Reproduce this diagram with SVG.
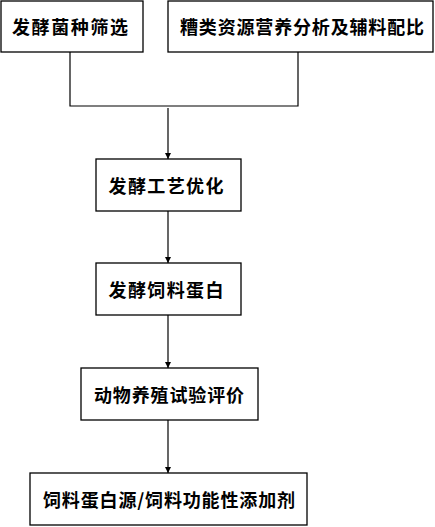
<svg xmlns="http://www.w3.org/2000/svg" width="435" height="527" viewBox="0 0 435 527">
<defs>
<style>
.box{fill:#fff;stroke:#000;stroke-width:1.3}
.t{font-family:"Noto Sans CJK SC","Noto Sans CJK JP",sans-serif;font-size:18px;font-weight:bold;fill:#000;text-anchor:middle;dominant-baseline:central}
.c{fill:none;stroke:#000;stroke-width:1.2}
</style>
<marker id="ah" viewBox="0 0 8 8" refX="8" refY="4" markerWidth="6" markerHeight="6" markerUnits="userSpaceOnUse" orient="auto">
<path d="M0,0 L8,4 L0,8 Z" fill="#000"/>
</marker>
</defs>
<rect width="435" height="527" fill="#fff"/>
<g id="connectors">
<polyline class="c" points="70,52 70,106 298,106 298,52"/>
<line class="c" x1="168" y1="108" x2="168" y2="159" marker-end="url(#ah)"/>
<line class="c" x1="168" y1="211" x2="168" y2="263" marker-end="url(#ah)"/>
<line class="c" x1="168" y1="315" x2="168" y2="368" marker-end="url(#ah)"/>
<line class="c" x1="168" y1="420" x2="168" y2="473" marker-end="url(#ah)"/>
</g>
<g id="n1"><rect class="box" x="1" y="1" width="142" height="51"/><text class="t" x="70" y="26" textLength="116">发酵菌种筛选</text></g>
<g id="n2"><rect class="box" x="168" y="1" width="265" height="51"/><text class="t" x="302" y="26" textLength="244">糟类资源营养分析及辅料配比</text></g>
<g id="n3"><rect class="box" x="96" y="159" width="145" height="52"/><text class="t" x="166" y="185" textLength="115">发酵工艺优化</text></g>
<g id="n4"><rect class="box" x="96" y="263" width="145" height="52"/><text class="t" x="166" y="289" textLength="115">发酵饲料蛋白</text></g>
<g id="n5"><rect class="box" x="81" y="368" width="177" height="52"/><text class="t" x="169" y="394" textLength="150">动物养殖试验评价</text></g>
<g id="n6"><rect class="box" x="30" y="473" width="277" height="52"/><text class="t" x="169" y="499" textLength="252">饲料蛋白源/饲料功能性添加剂</text></g>
</svg>
